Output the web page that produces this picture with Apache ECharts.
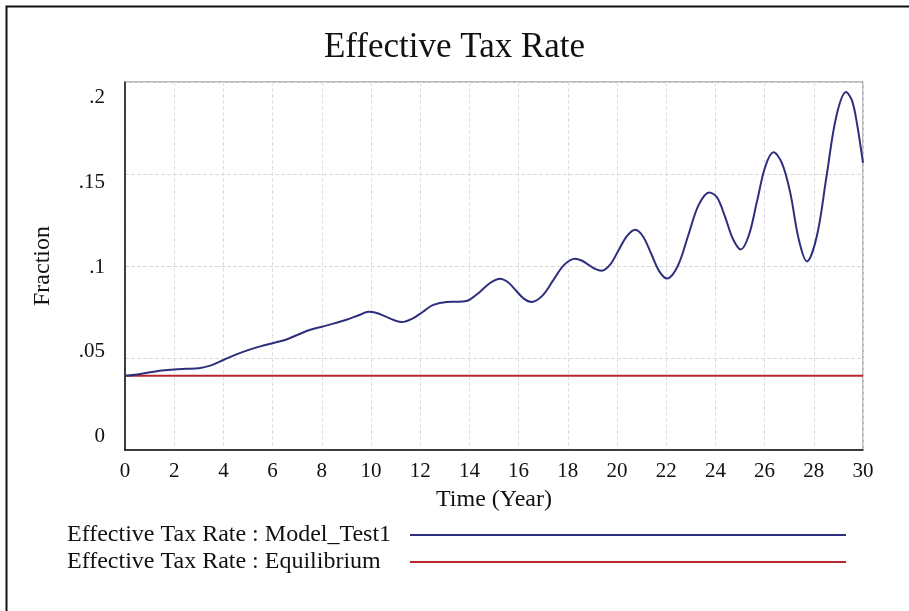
<!DOCTYPE html>
<html>
<head>
<meta charset="utf-8">
<script src="https://cdn.jsdelivr.net/npm/echarts@6/dist/echarts.min.js"></script>
<style>
html,body{margin:0;padding:0;background:#fff;}
#chart{width:909px;height:611px;}
</style>
</head>
<body>
<div id="chart"></div>
<script>
// ---- Data ----
var titleText = 'Effective Tax Rate';
var xAxisName = 'Time (Year)';
var yAxisName = 'Fraction';
var seriesNames = ['Effective Tax Rate : Model_Test1', 'Effective Tax Rate : Equilibrium'];

var modelTimes = [0, 0.5, 1, 1.5, 2, 2.5, 3, 3.5, 4, 4.5, 5, 5.5, 6, 6.5, 7, 7.5, 8, 8.5, 9, 9.5,
  9.9, 10.2, 10.6, 10.95, 11.25, 11.7, 12.1, 12.53, 13.08, 13.5, 13.82, 14.0, 14.35, 14.7, 15.0, 15.24,
  15.56, 15.885, 16.21, 16.53, 16.97, 17.41, 17.85, 18.29, 18.56, 18.835, 19.11, 19.38,
  19.72, 20.065, 20.41, 20.75, 21.07, 21.395, 21.72, 22.04, 22.47, 22.895, 23.32, 23.75,
  24.07, 24.39, 24.71, 25.03, 25.36, 25.695, 26.03, 26.36, 26.7, 27.04, 27.38, 27.72,
  28.12, 28.515, 28.91, 29.31, 29.55, 29.75, 30];
var modelValues = [0.0403, 0.0410, 0.0422, 0.0432, 0.0438, 0.0441, 0.0444, 0.0460, 0.0489, 0.0518, 0.0543, 0.0563, 0.0580, 0.0598, 0.0625, 0.0652, 0.0670, 0.0688, 0.0708, 0.0732,
  0.0751, 0.0746, 0.0725, 0.0705, 0.0695, 0.0715, 0.0750, 0.0789, 0.0805, 0.0806, 0.0808, 0.0816, 0.0850, 0.0893, 0.0920, 0.0931,
  0.0913, 0.0868, 0.0823, 0.0805, 0.0839, 0.0923, 0.1006, 0.1040, 0.1030, 0.1007, 0.0984, 0.0974,
  0.1007, 0.1086, 0.1164, 0.1197, 0.1158, 0.1065, 0.0971, 0.0932, 0.1000, 0.1166, 0.1332, 0.1400,
  0.1372, 0.1268, 0.1148, 0.1090, 0.1167, 0.1354, 0.1541, 0.1618, 0.1560, 0.1400, 0.1150, 0.1025,
  0.1160, 0.1485, 0.1810, 0.1945, 0.1900, 0.1778, 0.1560];

var equilibriumTimes = [0, 30];
var equilibriumValues = [0.0403, 0.0403];

var xTickValues = [0, 2, 4, 6, 8, 10, 12, 14, 16, 18, 20, 22, 24, 26, 28, 30];
var yTickValues = [0, 0.05, 0.1, 0.15, 0.2];
var yTickLabels = ['0', '.05', '.1', '.15', '.2'];

function pairs(xs, ys) {
  var out = [];
  for (var i = 0; i < xs.length; i++) out.push([xs[i], ys[i]]);
  return out;
}

var FONT = '"Liberation Serif", "Times New Roman", serif';
var chart = echarts.init(document.getElementById('chart'), null, {renderer: 'canvas'});

var option = {
  backgroundColor: '#ffffff',
  animation: false,
  title: {
    text: titleText,
    left: 'center',
    top: 25,
    textStyle: {fontFamily: FONT, fontSize: 35, fontWeight: 'normal', color: '#111'}
  },
  graphic: [{
    type: 'rect',
    shape: {x: 6.5, y: 6.5, width: 1000, height: 700},
    style: {fill: 'none', stroke: '#111', lineWidth: 2},
    silent: true, z: -1
  }],
  grid: {
    left: 125, top: 82, right: 46, bottom: 161,
    show: true, borderColor: '#777', borderWidth: 1, backgroundColor: 'transparent'
  },
  legend: {
    orient: 'vertical',
    left: 67, top: 523, padding: 0,
    align: 'right',
    itemWidth: 436, itemHeight: 10, itemGap: 3,
    itemStyle: {opacity: 0},
    formatter: function (name) {
      return '{t|' + name + '}';
    },
    textStyle: {
      fontFamily: FONT, fontSize: 24, color: '#111', lineHeight: 24,
      rich: {
        t: {fontFamily: FONT, fontSize: 24, color: '#111', lineHeight: 24, width: 338, align: 'left'}
      }
    },
    data: [seriesNames[0], seriesNames[1]]
  },
  xAxis: {
    type: 'value', min: 0, max: 30, interval: 2,
    name: xAxisName, nameLocation: 'middle', nameGap: 38,
    nameTextStyle: {fontFamily: FONT, fontSize: 24, color: '#111'},
    axisLine: {show: true, lineStyle: {color: '#111', width: 1.5}},
    axisTick: {show: false},
    axisLabel: {
      margin: 11, fontFamily: FONT, fontSize: 21, color: '#111',
      customValues: xTickValues
    },
    splitLine: {show: true, lineStyle: {color: '#e0e0ea', width: 1, type: 'dashed'}}
  },
  yAxis: [{
    type: 'value', min: 0, max: 0.2, interval: 0.05,
    name: yAxisName, nameLocation: 'middle', nameGap: 70, nameRotate: 90,
    nameTextStyle: {fontFamily: FONT, fontSize: 24, color: '#111'},
    axisLine: {show: true, lineStyle: {color: '#111', width: 1.5}},
    axisTick: {show: false},
    axisLabel: {show: false},
    splitLine: {show: true, lineStyle: {color: '#d8d8d8', width: 1, type: 'dashed'}}
  }, {
    type: 'value', position: 'left', min: -0.00785, max: 0.20926,
    axisLine: {show: false}, axisTick: {show: false}, splitLine: {show: false},
    axisLabel: {
      margin: 20, fontFamily: FONT, fontSize: 21, color: '#111',
      customValues: yTickValues,
      formatter: function (v) {
        for (var i = 0; i < yTickValues.length; i++) {
          if (Math.abs(yTickValues[i] - v) < 1e-6) return yTickLabels[i];
        }
        return '';
      }
    }
  }],
  series: [{
    name: seriesNames[0], type: 'line', yAxisIndex: 0,
    data: pairs(modelTimes, modelValues),
    smooth: 0.35, showSymbol: false, symbol: 'none',
    lineStyle: {color: '#2e2f7c', width: 2},
    itemStyle: {color: '#2e2f7c'}, z: 3
  }, {
    name: seriesNames[1], type: 'line', yAxisIndex: 0,
    data: pairs(equilibriumTimes, equilibriumValues),
    showSymbol: false, symbol: 'none',
    lineStyle: {color: '#b8262c', width: 2},
    itemStyle: {color: '#b8262c'}, z: 2
  }]
};
chart.setOption(option);
</script>
</body>
</html>
